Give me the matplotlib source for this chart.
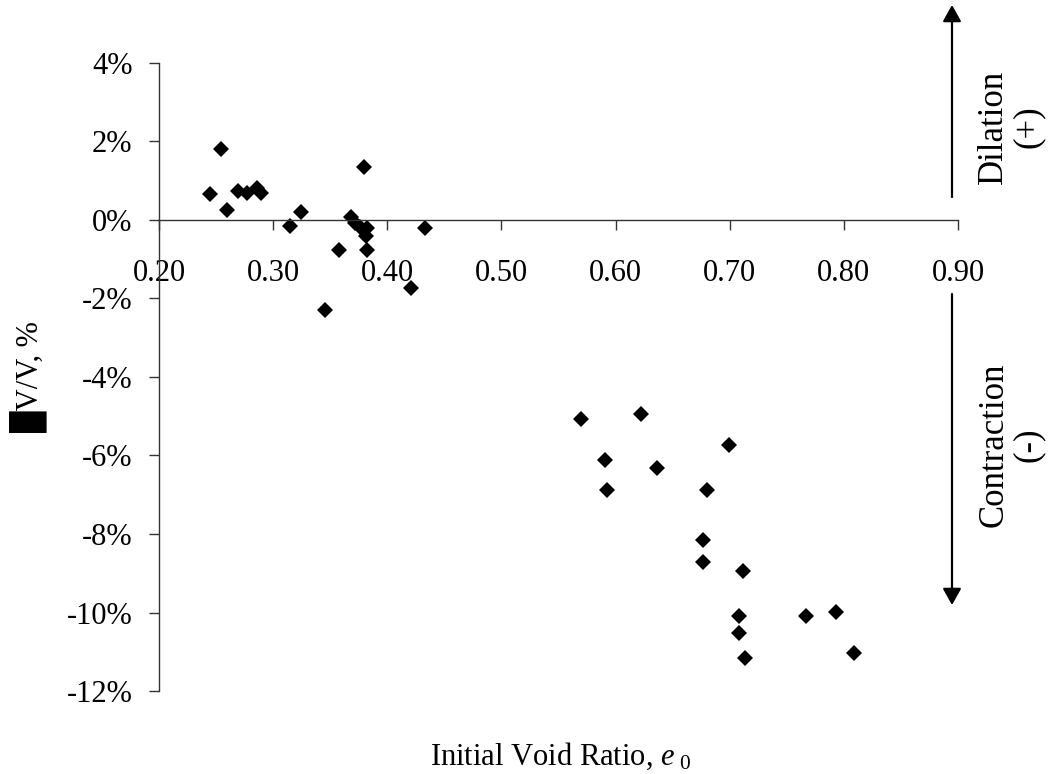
import matplotlib
matplotlib.use("Agg")
import matplotlib.pyplot as plt
from matplotlib.ticker import FixedLocator, FuncFormatter

plt.rcParams['font.family'] = ['Liberation Serif', 'DejaVu Sans']
plt.rcParams['mathtext.fontset'] = 'custom'
plt.rcParams['mathtext.rm'] = 'Liberation Serif'
plt.rcParams['mathtext.it'] = 'Liberation Serif:italic'
plt.rcParams['axes.unicode_minus'] = False

# Data: initial void ratio (x) and volumetric strain in % (y)
void_ratio = [0.2447, 0.254, 0.2594, 0.2696, 0.277, 0.2857, 0.2892, 0.3152, 0.3246,
              0.380, 0.368, 0.372, 0.376, 0.382, 0.3816, 0.382, 0.3576, 0.4327,
              0.4205, 0.3456,
              0.5699, 0.6225, 0.591, 0.6363, 0.5927, 0.6997, 0.6804, 0.6769, 0.6769,
              0.712, 0.7085, 0.7085, 0.7138, 0.7664, 0.7927, 0.8085]
vol_strain = [0.65, 1.82, 0.25, 0.75, 0.68, 0.82, 0.70, -0.16, 0.20,
              1.36, 0.08, -0.08, -0.17, -0.21, -0.42, -0.76, -0.77, -0.21,
              -1.74, -2.29,
              -5.06, -4.95, -6.12, -6.33, -6.89, -5.72, -6.89, -8.16, -8.72,
              -8.93, -10.10, -10.52, -11.17, -10.10, -9.99, -11.02]

x_ticks = [0.20, 0.30, 0.40, 0.50, 0.60, 0.70, 0.80, 0.90]
y_ticks = [-12, -10, -8, -6, -4, -2, 0, 2, 4]

W, H = 1051, 774
fig = plt.figure(figsize=(W / 100, H / 100), dpi=100)
ax = fig.add_axes([159 / W, 1 - 691 / H, (958 - 159) / W, (691 - 63) / H])

ax.plot(void_ratio, vol_strain, linestyle='none', marker='D', markersize=8.4,
        color='black', markeredgewidth=0)

ax.set_xlim(0.20, 0.90)
ax.set_ylim(-12, 4)
ax.spines['top'].set_visible(False)
ax.spines['right'].set_visible(False)
ax.spines['bottom'].set_position(('data', 0))
for s in ('left', 'bottom'):
    ax.spines[s].set_linewidth(1.0)
    ax.spines[s].set_color('#333333')

ax.xaxis.set_major_locator(FixedLocator(x_ticks))
ax.yaxis.set_major_locator(FixedLocator(y_ticks))
ax.xaxis.set_major_formatter(FuncFormatter(lambda v, p: f"{v:.2f}"))
ax.yaxis.set_major_formatter(FuncFormatter(lambda v, p: f"{v:.0f}%"))
ax.tick_params(axis='x', direction='out', length=7, width=1.0, color='#333333',
               labelsize=22, pad=21)
ax.tick_params(axis='y', direction='out', length=7, width=1.0, color='#333333',
               labelsize=22, pad=12)

ax.set_ylabel("\u2588V/V, %", fontsize=22, family=['Liberation Serif', 'DejaVu Sans'])
ax.yaxis.set_label_coords((47 - 159) / (958 - 159), 0.5)

fig.text(430 / W, 1 - 765 / H, r"Initial Void Ratio, $e_{\ \mathit{0}}$",
         fontsize=22, ha='left', va='baseline')

def fy(py):
    return 1 - py / H

ax_x = 952 / W
arrow_kw = dict(arrowstyle='-|>,head_length=0.5,head_width=0.28', color='black',
                lw=1.6, mutation_scale=20, shrinkA=0, shrinkB=0)
fig.add_artist(matplotlib.patches.FancyArrowPatch((ax_x, fy(197)), (ax_x, fy(5)),
                                                   transform=fig.transFigure, **arrow_kw))
fig.add_artist(matplotlib.patches.FancyArrowPatch((ax_x, fy(294)), (ax_x, fy(605)),
                                                   transform=fig.transFigure, **arrow_kw))

fig.text(1011 / W, fy(127), "Dilation\n(+)", rotation=90, fontsize=25,
         ha='center', va='center', multialignment='center', linespacing=1.05)
fig.text(1011 / W, fy(445), "Contraction\n(-)", rotation=90, fontsize=25,
         ha='center', va='center', multialignment='center', linespacing=1.05)

fig.savefig("out.png", dpi=100)
